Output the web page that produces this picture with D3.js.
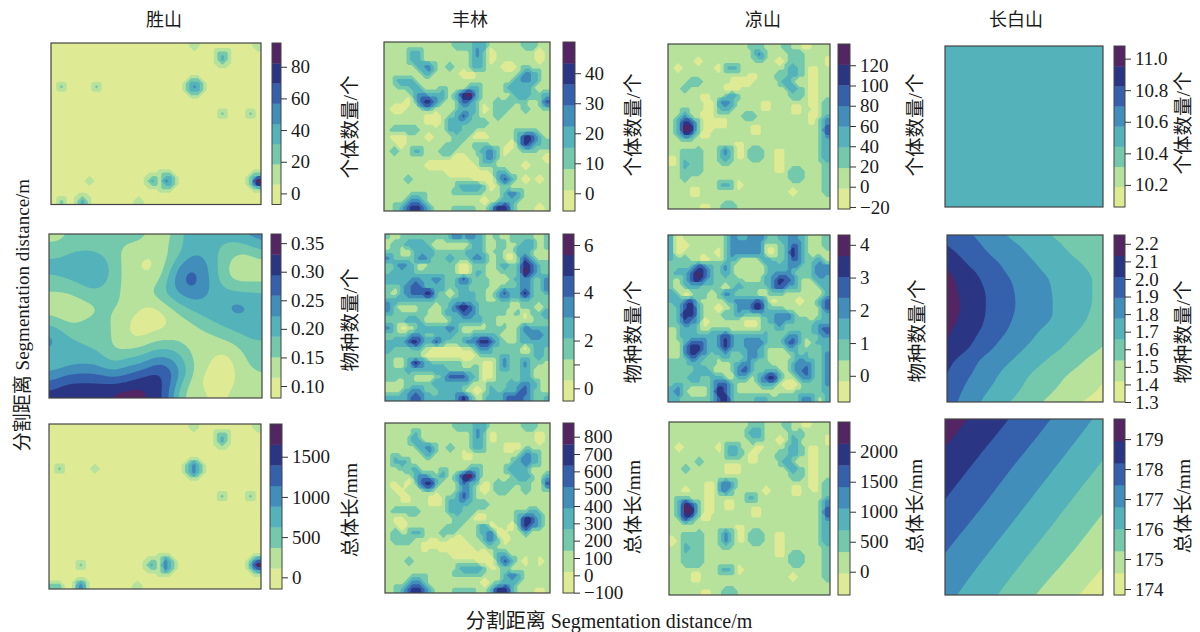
<!DOCTYPE html>
<html><head><meta charset="utf-8">
<style>html,body{margin:0;padding:0;background:#fff;}svg{display:block;}
text{font-family:"Liberation Serif","Noto Sans CJK SC",serif;fill:#1a1a1a;}</style>
<script src="https://cdn.jsdelivr.net/npm/d3@7/dist/d3.min.js"></script>
</head><body><svg id="c" width="1200" height="632"></svg>
<script>
const bandColors=["#dfeb94","#b6e29c","#74c9ad","#54b2ba","#418eba","#3560ac","#2a3683","#532562"];
const siteTitles=["胜山","丰林","凉山","长白山"];
const measureLabels=["个体数量/个","物种数量/个","总体长/mm"];
const axisTitle="分割距离 Segmentation distance/m";

// Band index (0-7) per grid cell. Sparse panels: [row, col, bands]
const shengshanCount=[[0,20,"1"],[0,29,"1"],[1,23,"121"],[2,23,"131"],[3,24,"1"],[5,19,"121"],[6,1,"2"],[6,6,"2"],[6,19,"242"],[7,19,"121"],[10,24,"2"],[10,28,"2"],[19,14,"1121"],[19,28,"12"],[20,5,"1"],[20,13,"13142"],[20,28,"27"],[21,14,"1121"],[21,28,"13"],[22,4,"1"],[23,1,"2"],[23,3,"131"],[23,12,"1"]];
const shengshanLength=[[0,20,"1"],[0,29,"1"],[1,23,"121"],[2,23,"131"],[3,24,"1"],[5,19,"131"],[6,1,"2"],[6,6,"1"],[6,19,"242"],[7,19,"131"],[10,24,"2"],[10,28,"2"],[19,14,"1131"],[19,28,"13"],[20,4,"2"],[20,13,"13142"],[20,28,"37"],[21,14,"1131"],[21,28,"13"],[22,4,"1"],[23,0,"22"],[23,3,"141"],[23,12,"1"]];
const shengshanSpecies=[
"1122 2222 2221 1123 3333 3344","2222 2222 1111 1223 3332 2223","2233 3322 1110 1123 4332 2112","3333 3332 1100 1234 4432 1111",
"3333 3332 1100 1245 5432 1111","2233 3332 1111 1345 5432 1111","2222 3322 1111 2345 5433 2222","1112 2222 1112 2334 4433 3333",
"1111 1222 1110 1223 3333 4433","1111 1121 1100 0122 3333 4443","2111 2221 1000 0011 2233 3333","3222 2221 1000 0111 1222 3333",
"4322 2221 1001 1111 1112 2233","4333 2221 1112 2221 1111 1222","3333 3321 2223 3332 1110 1122","3333 3332 3334 4432 1100 0122",
"3344 4433 4445 6543 1100 0112","4555 5554 5566 6542 1000 0111","5666 6666 6676 6531 1000 0111","6666 6667 7776 6521 1100 1111"];
const fenglinCount=[
"1111 1111 1122 2331 1111 2211","1112 3211 1111 2420 1111 1101","1112 3211 1111 2320 1111 1101","1111 2342 1211 2321 1001 2111",
"1111 1231 1110 0111 1112 4321","1233 2111 1111 1111 1123 4321","1122 3211 2111 3311 1233 3211","1111 3433 3136 7311 1123 3223",
"1110 2564 2125 4211 2222 2125","1001 1231 1123 3201 2211 2112","1111 1100 1235 3211 2111 1111","1111 1100 1333 2221 1111 1111",
"1222 2111 1332 2111 1112 2211","1001 1101 1122 1001 1113 6531","1101 1111 1221 1221 1103 6432","1211 3211 2211 1234 2011 2211",
"1111 1111 1100 1134 2111 1110","1111 1100 0000 0122 1111 0111","1111 1111 1000 0001 3311 1111","1112 1111 1111 1000 3531 0101",
"1111 1111 1123 3320 1211 1111","1111 2211 1122 2211 1343 1111","1113 4311 1111 1101 2332 1111","1235 6531 1122 2113 6631 1101"];
const fenglinSpecies=[
"2122 2222 2343 4321 2122 2212","1223 3321 1111 2321 2212 3312","2211 3332 2222 3321 2113 3211","4222 3432 2322 3431 2102 5311",
"2343 2122 2210 1221 2323 6532","2333 2222 2210 1321 1223 7532","3333 4334 3235 3221 1123 4324","2234 5433 3233 2221 1223 4324",
"2134 5563 2123 3221 3533 6323","3333 3332 2233 3221 2322 3222","4211 1221 2356 5322 2211 2212","3222 2211 2335 4322 2212 0223",
"2223 3211 1233 3322 1111 1122","4201 2333 3431 1112 2212 4333","2223 4323 3322 2333 2112 3443","3335 6435 3223 4565 3212 3333",
"3222 3210 0001 1343 2222 0232","2222 2100 0000 0122 2322 2232","2113 6432 2221 1100 2422 4221","2223 3333 3222 2200 2322 3211",
"2222 1112 3555 3200 2222 3211","1112 2223 3333 2112 2233 4321","1123 4322 3332 1013 2334 5321","3334 5433 3346 3123 3455 4323"];
const fenglinLength=[
"1111 1111 1122 2331 1111 2211","1111 3111 1111 2420 1111 1101","1112 3211 1111 2320 1111 1101","1111 2342 1211 2321 1000 2111",
"1211 1231 1110 0111 1112 4321","1332 1111 1111 1111 1123 4321","1122 3111 2111 3311 1233 3111","1111 3432 3136 7311 1123 3213",
"1010 2563 1125 3201 2222 2115","1001 1231 1124 3101 2211 2112","1100 1100 1235 3111 1111 1111","1111 1100 1333 2221 1111 1111",
"1222 2111 1332 2111 1112 2321","1001 1111 1122 1001 1113 6531","1101 1111 1221 1230 1103 6431","1212 3211 2211 1234 0011 3111",
"1222 1100 1000 1134 2011 1111","1111 1000 0000 0112 1111 1111","1111 1111 1000 0001 3311 1111","1112 1111 1111 1000 3531 0101",
"1111 1111 1123 3320 1211 1111","1111 2211 1122 2211 1343 1111","1113 4311 1111 1101 2332 1111","1235 6531 1122 2113 6631 1101"];
const liangshanCount=[
"1111 1111 1111 2211 1211 0111","1111 1111 1111 2421 1122 1111","1111 0111 1111 1211 0122 1110","1011 1110 2321 1111 1232 1011",
"1111 1111 1111 0111 2232 1011","1112 2111 1000 0111 2321 1011","1121 1111 0001 1111 1232 1011","1111 1011 2321 1111 1122 1011",
"1111 1003 4311 1101 1111 1012","1121 1002 3211 1101 1100 1012","1242 1001 1112 2111 1111 1013","1365 2000 0111 1111 1111 1024",
"1376 2001 1111 0011 1111 1125","1243 1011 1111 1111 1111 1124","1111 1111 1101 1111 1111 1123","1122 2112 4201 2211 0111 1123",
"0122 2112 3201 2211 0111 1123","0132 2111 2111 1111 0111 1112","1122 2111 1111 1111 0122 1112","1121 1111 1111 1111 1122 1112",
"1111 1112 3201 1111 1111 1112","1110 0111 1111 1111 1101 1112","1111 1111 1111 1111 1111 1111","1111 1011 2211 1111 1111 1111"];
const liangshanSpecies=[
"3011 1111 2433 4432 3343 2112","3001 1111 2444 4411 2354 2112","3011 1110 2444 4410 2364 2111","3221 1011 2321 1232 2354 2231",
"2223 5432 4211 1123 3343 2344","2335 7532 3211 1123 4432 2344","2135 6432 2221 1134 6542 1233","2123 3222 1232 2224 5432 1123",
"3201 2212 4322 2112 2111 1113","3345 2111 2344 4530 1110 1135","2356 3110 1244 5632 2111 1125","2366 3111 2232 2233 4431 1123",
"2354 3011 1110 0123 4332 2233","1233 2122 2111 1122 3222 2345","1233 3334 5433 3332 2343 2234","1135 5434 6434 4432 2453 1233",
"1146 6433 5333 4321 1232 2223","1135 4322 3223 4321 1123 3224","2223 3221 1234 3221 1134 4324","2222 3321 1245 3233 2134 5324",
"2223 3233 2133 1356 3113 4324","2322 2235 5311 1233 1001 2224","3421 1136 5311 1111 1112 2223","3322 2235 6322 2332 2223 4313"];
const liangshanLength=[
"1111 1111 1111 2211 1211 0111","1111 1111 1112 3311 1122 1111","1111 1111 1111 2211 0132 1110","1011 1110 2321 1011 1232 1011",
"1111 1111 2321 0111 2232 1011","1111 2111 1111 0111 2321 1011","1121 1111 0001 1111 1232 1011","1111 1111 1111 1111 1122 1011",
"1111 1003 4311 1111 1111 1012","1101 1003 4211 1101 1100 1012","1221 1001 1112 3111 1111 1113","1375 2001 0011 1111 1111 1124",
"1376 2001 1111 0011 1111 1125","1253 1011 1111 1111 1111 1124","1111 1111 1101 1111 1111 1123","1122 2112 4201 2211 0111 1123",
"0122 2112 4201 2211 0111 1123","1132 2111 2111 1111 0111 1112","1122 2111 1111 1111 0122 1112","1122 2111 1111 1111 1122 1112",
"1111 1112 3201 1111 1111 1112","1110 0111 1111 1111 1101 1112","1111 1111 1111 1111 1111 1111","1111 1011 2211 1111 1111 1111"];

// Smooth panels: measured values at evenly spaced grid nodes
const changbaiCount=[[10.5,10.5],[10.5,10.5]];
const changbaiSpecies=[
[1.97,1.92,1.865,1.80,1.745,1.70,1.657,1.62,1.59,1.56],
[2.03,1.965,1.905,1.84,1.795,1.74,1.695,1.65,1.61,1.58],
[2.11,2.02,1.955,1.893,1.835,1.78,1.73,1.685,1.645,1.61],
[2.16,2.075,2.0,1.925,1.87,1.81,1.765,1.72,1.67,1.63],
[2.18,2.10,2.025,1.955,1.885,1.83,1.777,1.72,1.675,1.625],
[2.19,2.11,2.03,1.96,1.89,1.835,1.78,1.73,1.675,1.62],
[2.18,2.10,2.025,1.945,1.88,1.825,1.775,1.715,1.66,1.60],
[2.145,2.07,2.0,1.92,1.855,1.79,1.735,1.68,1.63,1.58],
[2.12,2.04,1.955,1.875,1.81,1.75,1.695,1.64,1.59,1.537],
[2.05,1.97,1.885,1.82,1.76,1.70,1.64,1.59,1.535,1.48],
[2.01,1.925,1.85,1.775,1.71,1.645,1.59,1.5375,1.49,1.435],
[1.96,1.89,1.81,1.74,1.675,1.61,1.555,1.50,1.46,1.405],
[1.93,1.865,1.77,1.695,1.635,1.57,1.51,1.46,1.41,1.36]];
const changbaiLength=[
[179.35,178.4,177.48,176.55],
[178.7,177.78,176.88,175.96],
[178.1,177.2,176.28,175.35],
[177.5,176.6,175.67,174.75],
[176.95,176.0,175.0,174.15]];

// Colour-bar ranges and ticks
const ticksA=[0,20,40,60,80], ticksB=[0.10,0.15,0.20,0.25,0.30,0.35], ticksC=[0,500,1000,1500];
const ticksD=[0,10,20,30,40], ticksE=[0,1,2,3,4,5,6], ticksF=[-100,0,100,200,300,400,500,600,700,800];
const ticksG=[-20,0,20,40,60,80,100,120], ticksH=[0,1,2,3,4], ticksI=[0,500,1000,1500,2000];
const ticksJ=[10.2,10.4,10.6,10.8,11.0], ticksK=[1.3,1.4,1.5,1.6,1.7,1.8,1.9,2.0,2.1,2.2], ticksL=[174,175,176,177,178,179];

const fmt=(d)=>String(d).replace("-","\u2212");
const f1=d3.format(".1f"), f2=d3.format(".2f"), evenOnly=d=>d%2===0?String(d):"";
const panels=[
 {data:shengshanCount,sparse:[30,24],range:[-7,95],ticks:ticksA,box:[51,261,43,204.5],bar:[272,281],lab:[350,127,0],f:fmt},
 {data:shengshanSpecies,k:4,blur:3,smooth:true,range:[0.079,0.366],ticks:ticksB,box:[49,262,234,398],bar:[271,281],lab:[350,320,1],f:f2},
 {data:shengshanLength,sparse:[30,24],range:[-145,1907],ticks:ticksC,box:[49,261,424,589],bar:[270,282],lab:[350,510,2],f:fmt},
 {data:fenglinCount,range:[-5.9,50.4],ticks:ticksD,box:[384,550,42,211],bar:[563,575],lab:[633,125,0],f:fmt},
 {data:fenglinSpecies,range:[-0.53,6.46],ticks:ticksE,box:[385,549,234,401],bar:[563,574],lab:[633,332,1],f:evenOnly},
 {data:fenglinLength,range:[-102,879],ticks:ticksF,box:[385,550,423,593],bar:[563,574],lab:[633,507,2],f:fmt},
 {data:liangshanCount,range:[-22,141],ticks:ticksG,box:[668,830,44,209],bar:[838,850],lab:[915,125,0],f:fmt},
 {data:liangshanSpecies,range:[-0.8,4.3],ticks:ticksH,box:[668,830,235,402],bar:[838,850],lab:[917,331,1],f:fmt},
 {data:liangshanLength,range:[-388,2495],ticks:ticksI,box:[669,830,422,595],bar:[838,850],lab:[915,506,2],f:fmt},
 {data:changbaiCount,nodes:true,k:1,smooth:true,range:[10.06,11.08],ticks:ticksJ,box:[945,1103,46,207],bar:[1114,1125],lab:[1183,123,0],f:f1},
 {data:changbaiSpecies,nodes:true,k:6,smooth:true,range:[1.3,2.25],ticks:ticksK,box:[947,1103,235,402],bar:[1114,1125],lab:[1183,332,1],f:f1},
 {data:changbaiLength,nodes:true,k:6,smooth:true,range:[173.8,179.67],ticks:ticksL,box:[945,1103,419,595],bar:[1114,1125],lab:[1183,506,2],f:fmt}
];

function toMatrix(p,breaks){
  const step=breaks[1]-breaks[0], val=b=>breaks[0]+(b+0.5)*step;
  if(p.nodes) return p.data.map(r=>r.slice());
  if(p.sparse){
    const [n,m]=p.sparse, M=d3.range(m).map(()=>d3.range(n).map(()=>val(0)));
    p.data.forEach(([r,c,s])=>[...s].forEach((ch,i)=>{M[r][c+i]=val(+ch);}));
    return M;
  }
  return p.data.map(r=>[...r.replace(/ /g,"")].map(ch=>val(+ch)));
}
// Rendering only: one extra cell round the grid, so the filled bands run cleanly to the frame.
function padGrid(M,linear){
  const edge=(a,b)=>linear?2*a-b:a;
  const wide=M.map(r=>[edge(r[0],r[1]),...r,edge(r[r.length-1],r[r.length-2])]);
  const L=wide.length;
  const top=wide[0].map((v,i)=>edge(v,wide[1][i]));
  const bottom=wide[L-1].map((v,i)=>edge(v,wide[L-2][i]));
  return [top,...wide,bottom];
}
// Rendering only: resample a line of grid values so the filled bands have rounded outlines.
function resampleLine(a,k){
  if(k===1) return a.slice();
  const L=a.length,out=[];
  for(let i=0;i<L-1;i++){
    const p0=a[Math.max(i-1,0)],p1=a[i],p2=a[i+1],p3=a[Math.min(i+2,L-1)];
    for(let j=0;j<k;j++){
      const t=j/k;
      const v=0.5*(2*p1+(p2-p0)*t+(2*p0-5*p1+4*p2-p3)*t*t+(3*p1-p0-3*p2+p3)*t*t*t);
      out.push(Math.max(Math.min(p1,p2),Math.min(Math.max(p1,p2),v)));
    }
  }
  out.push(a[L-1]);
  return out;
}
function resample(rows,k){
  const byRow=rows.map(r=>resampleLine(r,k));
  const W=byRow[0].length;
  const cols=d3.range(W).map(x=>resampleLine(byRow.map(r=>r[x]),k));
  const H=cols[0].length;
  return {W,H,flat:Float64Array.from(d3.range(H).flatMap(y=>d3.range(W).map(x=>cols[x][y])))};
}

const svg=d3.select("#c");
svg.append("rect").attr("width",1200).attr("height",632).attr("fill","#fff");
const defs=svg.append("defs");

panels.forEach((p,idx)=>{
  const [x0,x1,y0,y1]=p.box, [lo,hi]=p.range, step=(hi-lo)/8;
  const breaks=d3.range(9).map(i=>lo+i*step);
  const M=toMatrix(p,breaks), m=M.length, n=M[0].length;
  const rows=padGrid(M,!!p.nodes);
  const k=p.k||2;
  const {W,H,flat}=resample(rows,k);
  if(p.blur) d3.blur2({data:flat,width:W,height:H},p.blur);
  const toX=u=>(u-0.5)*k+0.5;
  const sx=d3.scaleLinear().domain(p.nodes?[toX(1.5),toX(n+0.5)]:[toX(1),toX(n+1)]).range([x0,x1]);
  const sy=d3.scaleLinear().domain(p.nodes?[toX(1.5),toX(m+0.5)]:[toX(1),toX(m+1)]).range([y0,y1]);
  const path=d3.geoPath(d3.geoTransform({point(x,y){this.stream.point(sx(x),sy(y));}}));
  const contours=d3.contours().size([W,H]).smooth(!!p.smooth).thresholds(breaks.slice(1,8))(Array.from(flat));
  const cid="clip"+idx;
  defs.append("clipPath").attr("id",cid).append("rect").attr("x",x0).attr("y",y0).attr("width",x1-x0).attr("height",y1-y0);
  const g=svg.append("g").attr("clip-path",`url(#${cid})`);
  g.append("rect").attr("x",x0).attr("y",y0).attr("width",x1-x0).attr("height",y1-y0).attr("fill",bandColors[0]);
  g.selectAll("path").data(contours).join("path").attr("d",path).attr("fill",(d,i)=>bandColors[i+1]);
  svg.append("rect").attr("x",x0).attr("y",y0).attr("width",x1-x0).attr("height",y1-y0)
     .attr("fill","none").attr("stroke","#444").attr("stroke-width",1.2);
  // colour bar
  const [bx0,bx1]=p.bar, yb=d3.scaleLinear().domain([lo,hi]).range([y1,y0]);
  svg.append("g").selectAll("rect").data(d3.range(8)).join("rect")
     .attr("x",bx0).attr("width",bx1-bx0)
     .attr("y",i=>yb(breaks[i+1])).attr("height",i=>yb(breaks[i])-yb(breaks[i+1])+0.3)
     .attr("fill",i=>bandColors[i]);
  svg.append("rect").attr("x",bx0).attr("y",y0).attr("width",bx1-bx0).attr("height",y1-y0)
     .attr("fill","none").attr("stroke","#444").attr("stroke-width",1);
  const ax=d3.axisRight(yb).tickValues(p.ticks).tickSize(6).tickPadding(4).tickFormat(p.f);
  const ag=svg.append("g").attr("transform",`translate(${bx1},0)`).call(ax);
  ag.select(".domain").remove();
  ag.selectAll("line").attr("stroke","#333").attr("stroke-width",1);
  ag.selectAll("text").attr("font-size",19).attr("fill","#1a1a1a");
  ag.attr("font-family",null).attr("font-size",null);
  // measure label
  const [lx,ly,li]=p.lab;
  svg.append("text").attr("transform",`translate(${lx},${ly}) rotate(-90)`)
     .attr("text-anchor","middle").attr("dominant-baseline","central")
     .attr("font-size",19.5).text(measureLabels[li]);
});

const titleX=[164,470,763,1016];
svg.append("g").selectAll("text").data(siteTitles).join("text")
   .attr("x",(d,i)=>titleX[i]).attr("y",20).attr("text-anchor","middle").attr("dominant-baseline","central")
   .attr("font-size",18).text(d=>d);
svg.append("text").attr("x",609).attr("y",621).attr("text-anchor","middle").attr("dominant-baseline","central")
   .attr("font-size",20).text(axisTitle);
svg.append("text").attr("transform","translate(22,315) rotate(-90)").attr("text-anchor","middle").attr("dominant-baseline","central")
   .attr("font-size",19).text(axisTitle);
</script></body></html>
